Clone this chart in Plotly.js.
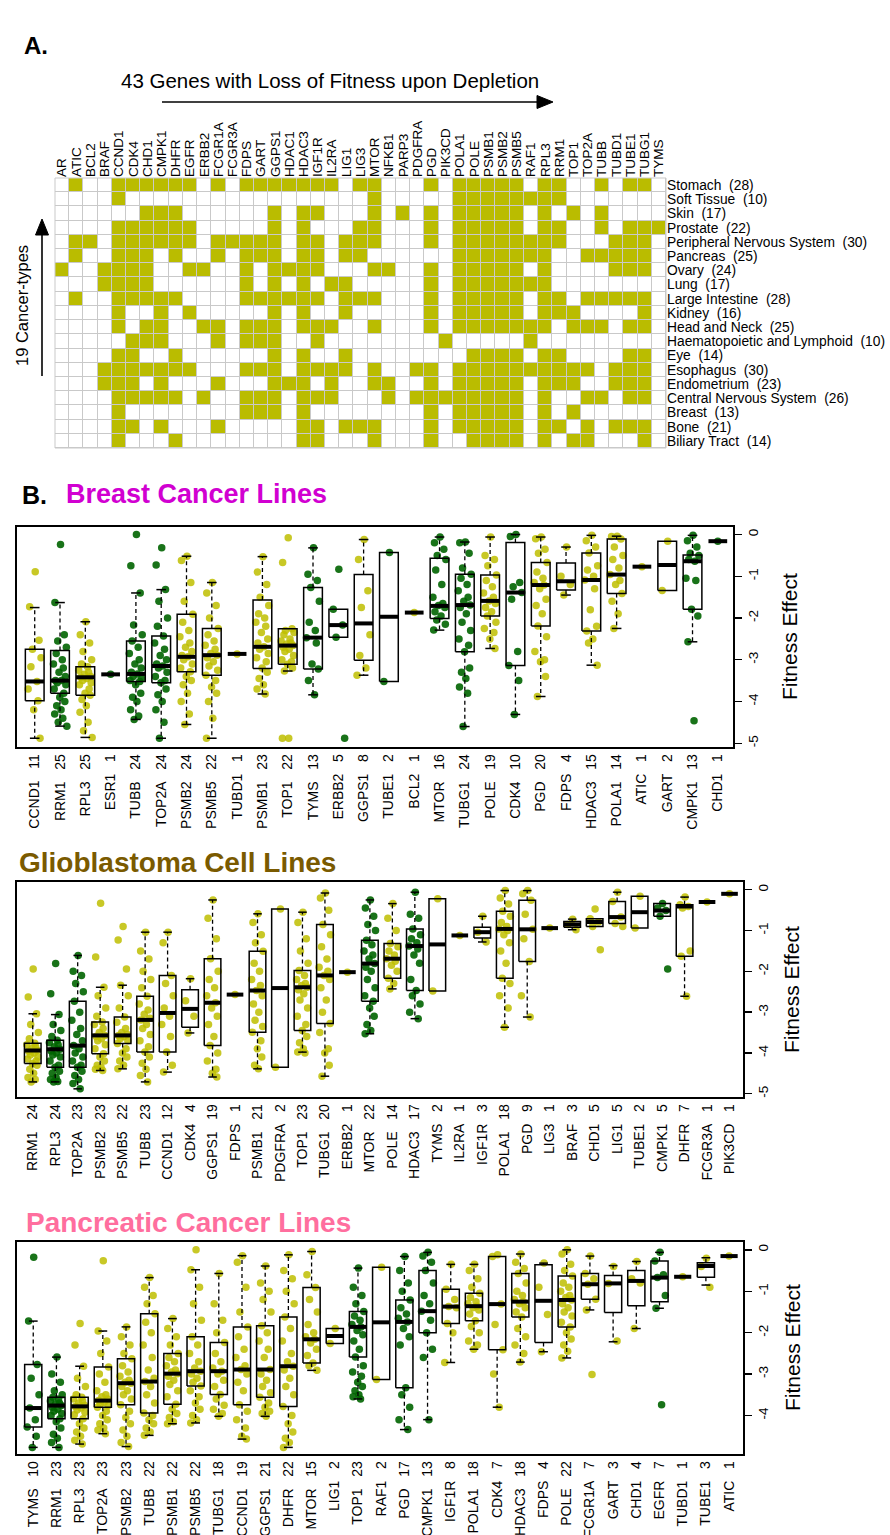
<!DOCTYPE html>
<html><head><meta charset="utf-8">
<script src="https://cdn.plot.ly/plotly-3.0.1.min.js"></script>
<style>html,body{margin:0;padding:0;background:#fff;}#chart{width:890px;height:1535px;}</style>
</head><body><div id="chart"></div>
<script>
// ---------------- Panel A data ----------------
const genes43 = ["AR","ATIC","BCL2","BRAF","CCND1","CDK4","CHD1","CMPK1","DHFR","EGFR","ERBB2","FCGR1A","FCGR3A","FDPS","GART","GGPS1","HDAC1","HDAC3","IGF1R","IL2RA","LIG1","LIG3","MTOR","NFKB1","PARP3","PDGFRA","PGD","PIK3CD","POLA1","POLE","PSMB1","PSMB2","PSMB5","RAF1","RPL3","RRM1","TOP1","TOP2A","TUBB","TUBD1","TUBE1","TUBG1","TYMS"];
const cancerTypes = ["Stomach","Soft Tissue","Skin","Prostate","Peripheral Nervous System","Pancreas","Ovary","Lung","Large Intestine","Kidney","Head and Neck","Haematopoietic and Lymphoid","Eye","Esophagus","Endometrium","Central Nervous System","Breast","Bone","Biliary Tract"];
const cancerCounts = [28,10,17,22,30,25,24,17,28,16,25,10,14,30,23,26,13,21,14];
const hitGenes = [
 ["ATIC","CCND1","CDK4","CHD1","CMPK1","DHFR","EGFR","FCGR1A","FDPS","GART","GGPS1","HDAC1","HDAC3","IGF1R","IL2RA","LIG3","MTOR","PGD","POLA1","POLE","PSMB1","PSMB2","PSMB5","RPL3","RRM1","TUBB","TUBE1","TUBG1"],
 ["CCND1","MTOR","POLA1","POLE","PSMB1","PSMB2","PSMB5","RAF1","RPL3","RRM1"],
 ["CHD1","CMPK1","DHFR","GGPS1","HDAC3","IGF1R","MTOR","PARP3","PGD","POLA1","POLE","PSMB1","PSMB2","PSMB5","RPL3","TOP1","TUBB"],
 ["CCND1","CDK4","CHD1","CMPK1","DHFR","EGFR","GGPS1","HDAC3","LIG3","MTOR","PGD","POLA1","POLE","PSMB1","PSMB2","PSMB5","RPL3","RRM1","TUBB","TUBE1","TUBG1","TYMS"],
 ["ATIC","BCL2","CCND1","CDK4","CHD1","CMPK1","DHFR","EGFR","FCGR1A","FCGR3A","FDPS","GART","GGPS1","HDAC3","IGF1R","LIG1","LIG3","MTOR","PGD","POLA1","POLE","PSMB1","PSMB2","PSMB5","RAF1","RPL3","RRM1","TUBD1","TUBE1","TUBG1"],
 ["ATIC","CCND1","CDK4","CHD1","DHFR","FCGR1A","FDPS","GART","GGPS1","HDAC3","IGF1R","LIG1","LIG3","POLA1","POLE","PSMB1","PSMB2","PSMB5","RAF1","RPL3","TOP2A","TUBB","TUBD1","TUBE1","TUBG1"],
 ["AR","BRAF","CCND1","CDK4","CHD1","EGFR","ERBB2","FDPS","GGPS1","HDAC1","HDAC3","IGF1R","MTOR","NFKB1","PGD","POLA1","POLE","PSMB1","PSMB2","PSMB5","RPL3","TUBD1","TUBE1","TUBG1"],
 ["BRAF","CCND1","CDK4","CHD1","FDPS","GGPS1","HDAC3","IL2RA","LIG1","PGD","POLA1","POLE","PSMB1","PSMB2","PSMB5","RAF1","RPL3"],
 ["ATIC","CCND1","CDK4","CHD1","CMPK1","DHFR","FDPS","GART","GGPS1","HDAC1","HDAC3","IGF1R","LIG1","LIG3","MTOR","PGD","POLA1","POLE","PSMB1","PSMB2","PSMB5","RPL3","RRM1","TOP2A","TUBB","TUBD1","TUBE1","TUBG1"],
 ["CCND1","CMPK1","EGFR","GGPS1","HDAC3","LIG1","PGD","POLA1","POLE","PSMB1","PSMB2","PSMB5","RPL3","RRM1","TOP1","TUBG1"],
 ["CCND1","CHD1","CMPK1","ERBB2","FCGR1A","FDPS","GART","GGPS1","HDAC3","IGF1R","IL2RA","MTOR","PGD","POLA1","POLE","PSMB1","PSMB2","PSMB5","RAF1","RPL3","TOP1","TOP2A","TUBB","TUBE1","TUBG1"],
 ["CDK4","CHD1","CMPK1","FCGR1A","FDPS","GART","GGPS1","IGF1R","PIK3CD","RAF1"],
 ["CCND1","CDK4","DHFR","GGPS1","HDAC3","LIG1","POLE","PSMB1","PSMB2","PSMB5","RPL3","RRM1","TUBE1","TUBG1"],
 ["BRAF","CCND1","CDK4","CHD1","CMPK1","DHFR","EGFR","FDPS","GART","GGPS1","HDAC3","IGF1R","IL2RA","LIG1","MTOR","PDGFRA","PGD","POLA1","POLE","PSMB1","PSMB2","PSMB5","RAF1","RPL3","RRM1","TOP1","TOP2A","TUBD1","TUBE1","TUBG1"],
 ["BRAF","CCND1","CDK4","CMPK1","FCGR1A","GGPS1","HDAC1","HDAC3","IL2RA","MTOR","NFKB1","PGD","POLA1","POLE","PSMB1","PSMB2","PSMB5","RPL3","RRM1","TOP1","TUBD1","TUBE1","TUBG1"],
 ["CCND1","CDK4","CHD1","CMPK1","DHFR","ERBB2","FDPS","GART","GGPS1","HDAC3","IGF1R","IL2RA","NFKB1","PDGFRA","PGD","PIK3CD","POLA1","POLE","PSMB1","PSMB2","PSMB5","RPL3","TOP2A","TUBB","TUBE1","TUBG1"],
 ["CCND1","FDPS","GART","GGPS1","HDAC3","PGD","POLA1","POLE","PSMB1","PSMB2","PSMB5","RPL3","TOP1"],
 ["CCND1","CDK4","CMPK1","FCGR1A","HDAC3","IGF1R","LIG1","LIG3","MTOR","PGD","POLA1","POLE","PSMB1","PSMB2","PSMB5","RPL3","RRM1","TOP2A","TUBD1","TUBE1","TUBG1"],
 ["CCND1","DHFR","HDAC3","IGF1R","MTOR","PGD","POLE","PSMB1","PSMB2","PSMB5","RPL3","TOP1","TOP2A","TUBG1"]
];

// ---------------- Panel B: Breast ----------------
const breastGenes = ["CCND1","RRM1","RPL3","ESR1","TUBB","TOP2A","PSMB2","PSMB5","TUBD1","PSMB1","TOP1","TYMS","ERBB2","GGPS1","TUBE1","BCL2","MTOR","TUBG1","POLE","CDK4","PGD","FDPS","HDAC3","POLA1","ATIC","GART","CMPK1","CHD1"];
const breastN = [11,25,25,1,24,24,24,22,1,23,22,13,5,8,2,1,16,24,19,10,20,4,15,14,1,2,13,1];
const breastQ1 = [-3.98,-3.80,-3.85,-3.35,-3.52,-3.55,-3.29,-3.37,-2.86,-3.21,-3.11,-3.22,-2.46,-3.01,-3.52,-1.87,-2.01,-2.81,-1.95,-3.14,-2.19,-1.33,-2.31,-1.41,-0.77,-1.34,-1.79,-0.16];
const breastMed = [-3.52,-3.50,-3.42,-3.35,-3.34,-3.15,-2.93,-2.89,-2.86,-2.69,-2.66,-2.47,-2.17,-2.13,-1.97,-1.87,-1.71,-1.69,-1.59,-1.39,-1.21,-1.12,-1.09,-0.96,-0.77,-0.73,-0.64,-0.16];
const breastQ3 = [-2.75,-2.78,-3.17,-3.35,-2.55,-2.43,-1.91,-2.25,-2.86,-1.57,-2.26,-1.27,-1.79,-0.96,-0.43,-1.87,-0.57,-0.95,-0.97,-0.19,-0.67,-0.68,-0.44,-0.11,-0.77,-0.16,-0.49,-0.16];
const breastLo = [-4.88,-4.59,-4.86,-3.35,-4.43,-4.88,-4.55,-4.88,-2.86,-3.82,-3.27,-3.84,-2.46,-3.37,-3.52,-1.87,-2.29,-4.60,-2.73,-4.31,-3.88,-1.45,-3.13,-2.25,-0.77,-1.34,-2.57,-0.16];
const breastHi = [-1.75,-1.63,-2.09,-3.35,-1.40,-1.32,-0.52,-1.15,-2.86,-0.53,-2.26,-0.32,-1.79,-0.12,-0.43,-1.87,-0.06,-0.18,-0.06,0.00,-0.06,-0.30,-0.02,-0.04,-0.77,-0.16,-0.02,-0.16];
const breastColor = ["o","g","o","g","g","g","o","o","o","o","o","g","g","o","g","o","g","g","o","g","o","o","o","o","o","o","g","g"];
const breastPoints = [
 [-0.89,-1.73,-2.53,-2.75,-2.95,-3.17,-3.52,-3.70,-3.98,-4.20,-4.88],
 [-0.24,-1.63,-2.40,-2.55,-2.70,-2.85,-3.00,-3.10,-3.20,-3.30,-3.40,-3.50,-3.50,-3.55,-3.60,-3.70,-3.80,-3.90,-4.00,-4.10,-4.20,-4.30,-4.40,-4.50,-4.59],
 [-2.09,-2.40,-2.60,-2.80,-3.00,-3.10,-3.17,-3.25,-3.30,-3.35,-3.40,-3.42,-3.45,-3.50,-3.55,-3.60,-3.70,-3.80,-3.85,-3.95,-4.10,-4.26,-4.50,-4.70,-4.86],
 [-3.35],
 [0.00,-0.75,-1.40,-2.17,-2.40,-2.55,-2.70,-2.85,-3.00,-3.10,-3.20,-3.30,-3.34,-3.40,-3.45,-3.50,-3.52,-3.60,-3.80,-3.90,-4.00,-4.20,-4.35,-4.43],
 [-0.32,-0.73,-1.32,-1.60,-2.00,-2.20,-2.43,-2.60,-2.75,-2.90,-3.00,-3.10,-3.15,-3.20,-3.30,-3.40,-3.50,-3.55,-3.70,-3.84,-4.00,-4.20,-4.50,-4.88],
 [-0.52,-0.62,-1.15,-1.60,-1.91,-2.10,-2.30,-2.45,-2.60,-2.70,-2.80,-2.90,-2.93,-3.00,-3.10,-3.20,-3.29,-3.40,-3.50,-3.60,-3.80,-4.00,-4.30,-4.55],
 [-1.15,-1.40,-1.70,-2.00,-2.25,-2.40,-2.55,-2.65,-2.75,-2.85,-2.89,-2.95,-3.05,-3.15,-3.25,-3.37,-3.50,-3.65,-3.80,-4.00,-4.40,-4.88],
 [-2.86],
 [-0.53,-0.90,-1.20,-1.50,-1.70,-1.90,-2.00,-2.10,-2.20,-2.35,-2.50,-2.60,-2.69,-2.75,-2.85,-2.95,-3.05,-3.20,-3.30,-3.45,-3.60,-3.70,-3.82],
 [-0.08,-0.67,-2.26,-2.30,-2.35,-2.40,-2.50,-2.55,-2.60,-2.62,-2.66,-2.70,-2.75,-2.80,-2.90,-3.00,-3.05,-3.11,-3.20,-3.27,-4.88,-4.88],
 [-0.32,-0.95,-1.10,-1.27,-1.60,-2.10,-2.30,-2.47,-2.60,-3.10,-3.22,-3.50,-3.84],
 [-0.83,-1.79,-2.17,-2.46,-4.88],
 [-0.12,-0.60,-1.35,-1.75,-2.40,-2.90,-3.20,-3.37],
 [-0.43,-3.52],
 [-1.87],
 [-0.06,-0.20,-0.35,-0.50,-0.60,-0.85,-1.20,-1.50,-1.65,-1.70,-1.75,-1.85,-1.95,-2.05,-2.15,-2.29],
 [-0.18,-0.20,-0.45,-0.80,-0.95,-1.05,-1.20,-1.35,-1.50,-1.60,-1.69,-1.75,-1.90,-2.10,-2.30,-2.50,-2.65,-2.81,-3.20,-3.30,-3.45,-3.65,-3.80,-4.60],
 [-0.06,-0.50,-0.60,-0.75,-0.97,-1.10,-1.25,-1.40,-1.50,-1.59,-1.65,-1.75,-1.85,-1.95,-2.10,-2.25,-2.35,-2.50,-2.73],
 [0.00,-0.05,-1.15,-1.25,-1.39,-1.55,-2.80,-3.14,-3.50,-4.31],
 [-0.06,-0.10,-0.35,-0.45,-0.67,-0.90,-1.05,-1.15,-1.21,-1.30,-1.55,-1.70,-1.90,-2.19,-2.45,-2.80,-3.00,-3.05,-3.40,-3.88],
 [-0.30,-1.00,-1.20,-1.45],
 [-0.02,-0.15,-0.30,-0.44,-0.75,-0.85,-1.00,-1.09,-1.30,-1.80,-2.20,-2.31,-2.50,-2.60,-3.13],
 [-0.04,-0.05,-0.11,-0.30,-0.50,-0.60,-0.80,-0.96,-1.10,-1.20,-1.41,-1.60,-1.90,-2.25],
 [-0.77],
 [-0.16,-1.34],
 [-0.02,-0.15,-0.30,-0.45,-0.50,-0.60,-0.64,-1.05,-1.10,-1.79,-1.95,-2.57,-4.46],
 [-0.16]
];

// ---------------- Panel B: Glioblastoma ----------------
const glioGenes = ["RRM1","RPL3","TOP2A","PSMB2","PSMB5","TUBB","CCND1","CDK4","GGPS1","FDPS","PSMB1","PDGFRA","TOP1","TUBG1","ERBB2","MTOR","POLE","HDAC3","TYMS","IL2RA","IGF1R","POLA1","PGD","LIG3","BRAF","CHD1","LIG1","TUBE1","CMPK1","DHFR","FCGR3A","PIK3CD"];
const glioN = [24,24,23,23,22,23,12,4,19,1,21,2,23,20,1,22,14,17,2,1,3,18,9,1,3,5,5,2,5,7,1,1];
const glioQ1 = [-4.26,-4.35,-4.35,-4.02,-3.77,-3.98,-3.98,-3.37,-3.82,-2.57,-3.49,-4.35,-3.45,-3.28,-2.02,-2.73,-2.17,-2.47,-2.48,-1.12,-1.18,-2.17,-1.76,-0.94,-0.92,-0.90,-0.83,-0.94,-0.65,-1.63,-0.30,-0.10];
const glioMed = [-3.94,-3.91,-3.82,-3.57,-3.57,-3.19,-3.02,-2.92,-2.77,-2.57,-2.47,-2.41,-2.39,-2.10,-2.02,-1.81,-1.69,-1.38,-1.34,-1.12,-1.04,-0.96,-0.97,-0.94,-0.85,-0.79,-0.67,-0.55,-0.51,-0.41,-0.30,-0.10];
const glioQ3 = [-3.76,-3.69,-2.73,-3.24,-3.12,-2.61,-2.10,-2.45,-1.69,-2.57,-1.51,-0.47,-1.98,-0.85,-2.02,-1.24,-1.32,-0.96,-0.22,-1.12,-0.92,-0.53,-0.26,-0.94,-0.78,-0.71,-0.29,-0.16,-0.34,-0.37,-0.30,-0.10];
const glioLo = [-4.71,-4.71,-4.88,-4.43,-4.39,-4.71,-4.47,-3.51,-4.59,-2.57,-4.39,-4.35,-3.98,-4.57,-2.02,-3.53,-2.43,-3.16,-2.48,-1.12,-1.28,-3.37,-3.12,-0.94,-0.98,-0.90,-0.83,-0.94,-0.65,-2.61,-0.30,-0.10];
const glioHi = [-3.04,-3.06,-1.61,-2.39,-2.34,-1.04,-1.04,-2.18,-0.25,-2.57,-0.59,-0.47,-0.55,-0.08,-2.02,-0.25,-0.34,-0.06,-0.22,-1.12,-0.65,-0.02,-0.02,-0.94,-0.72,-0.71,-0.06,-0.16,-0.34,-0.18,-0.30,-0.10];
const glioColor = ["o","g","g","o","o","o","o","o","o","o","o","o","o","o","o","g","o","g","o","o","o","o","o","o","o","o","o","o","g","o","o","o"];
const glioPoints = [
 [-1.94,-2.63,-3.04,-3.30,-3.50,-3.65,-3.76,-3.80,-3.85,-3.90,-3.94,-3.96,-4.00,-4.05,-4.10,-4.15,-4.20,-4.26,-4.30,-4.40,-4.50,-4.60,-4.65,-4.71],
 [-1.81,-2.55,-3.06,-3.30,-3.45,-3.60,-3.69,-3.75,-3.80,-3.85,-3.91,-3.95,-4.00,-4.05,-4.10,-4.20,-4.30,-4.35,-4.45,-4.50,-4.60,-4.65,-4.70,-4.71],
 [-1.61,-2.00,-2.10,-2.30,-2.50,-2.73,-3.00,-3.20,-3.40,-3.55,-3.70,-3.82,-3.90,-4.00,-4.10,-4.20,-4.30,-4.35,-4.45,-4.55,-4.65,-4.75,-4.88],
 [-0.33,-1.65,-2.39,-2.60,-2.90,-3.10,-3.24,-3.30,-3.40,-3.50,-3.57,-3.60,-3.65,-3.70,-3.80,-3.90,-4.02,-4.10,-4.20,-4.30,-4.35,-4.40,-4.43],
 [-0.90,-1.23,-1.94,-2.34,-2.60,-2.90,-3.12,-3.25,-3.40,-3.50,-3.55,-3.57,-3.60,-3.65,-3.70,-3.77,-3.90,-4.00,-4.10,-4.20,-4.30,-4.39],
 [-1.04,-1.50,-1.70,-2.00,-2.20,-2.40,-2.61,-2.80,-2.95,-3.05,-3.15,-3.19,-3.30,-3.40,-3.55,-3.70,-3.85,-3.98,-4.10,-4.25,-4.40,-4.55,-4.71],
 [-1.04,-1.30,-2.10,-2.30,-2.60,-2.90,-3.10,-3.30,-3.60,-3.98,-4.30,-4.47],
 [-2.18,-2.72,-3.10,-3.51],
 [-0.25,-0.70,-1.20,-1.69,-2.00,-2.20,-2.40,-2.60,-2.77,-2.90,-3.10,-3.30,-3.60,-3.82,-4.00,-4.20,-4.40,-4.50,-4.59],
 [-2.57],
 [-0.59,-0.80,-1.10,-1.30,-1.51,-1.80,-2.00,-2.20,-2.35,-2.47,-2.60,-2.80,-3.00,-3.20,-3.35,-3.49,-3.70,-3.90,-4.10,-4.30,-4.39],
 [-0.47,-4.35],
 [-0.55,-0.80,-1.20,-1.50,-1.80,-1.98,-2.10,-2.20,-2.30,-2.35,-2.39,-2.45,-2.55,-2.70,-2.90,-3.10,-3.30,-3.45,-3.60,-3.75,-3.90,-3.98,-4.00],
 [-0.08,-0.20,-0.50,-0.85,-1.10,-1.40,-1.70,-1.90,-2.00,-2.10,-2.20,-2.40,-2.70,-3.00,-3.28,-3.50,-3.90,-4.00,-4.30,-4.57],
 [-2.02],
 [-0.25,-0.45,-0.65,-0.85,-1.00,-1.24,-1.35,-1.50,-1.60,-1.70,-1.81,-1.90,-2.00,-2.20,-2.40,-2.60,-2.73,-2.90,-3.10,-3.30,-3.45,-3.53],
 [-0.34,-0.70,-1.00,-1.32,-1.40,-1.50,-1.60,-1.69,-1.75,-1.85,-2.00,-2.17,-2.30,-2.43],
 [-0.06,-0.60,-0.70,-0.96,-1.10,-1.20,-1.30,-1.38,-1.45,-1.60,-1.80,-2.20,-2.47,-2.60,-2.80,-3.00,-3.16],
 [-0.22,-2.48],
 [-1.12],
 [-0.65,-1.04,-1.28],
 [-0.02,-0.20,-0.35,-0.53,-0.65,-0.80,-0.90,-0.96,-1.00,-1.10,-1.30,-1.50,-1.80,-2.17,-2.30,-2.60,-2.90,-3.37],
 [-0.02,-0.10,-0.26,-0.60,-0.97,-1.20,-1.76,-2.60,-3.12],
 [-0.94],
 [-0.72,-0.85,-0.98],
 [-0.47,-0.71,-0.79,-0.90,-1.47],
 [-0.06,-0.29,-0.67,-0.83,-0.90],
 [-0.16,-0.94],
 [-0.34,-0.45,-0.51,-0.65,-1.94],
 [-0.18,-0.37,-0.41,-0.45,-1.50,-1.63,-2.61],
 [-0.30],
 [-0.10]
];

// ---------------- Panel B: Pancreatic ----------------
const pancGenes = ["TYMS","RRM1","RPL3","TOP2A","PSMB2","TUBB","PSMB1","PSMB5","TUBG1","CCND1","GGPS1","DHFR","MTOR","LIG1","TOP1","RAF1","PGD","CMPK1","IGF1R","POLA1","CDK4","HDAC3","FDPS","POLE","FCGR1A","GART","CHD1","EGFR","TUBD1","TUBE1","ATIC"];
const pancN = [10,23,23,23,23,22,22,22,18,19,21,22,15,2,23,2,17,13,8,18,7,18,4,22,7,3,4,7,1,3,1];
const pancQ1 = [-4.28,-4.08,-4.08,-3.80,-3.74,-3.94,-3.73,-3.29,-3.49,-3.74,-3.56,-3.78,-2.73,-2.26,-2.59,-3.13,-3.33,-2.00,-1.78,-1.71,-2.41,-1.62,-2.24,-1.86,-1.19,-1.51,-1.35,-1.25,-0.65,-0.66,-0.15];
const pancMed = [-3.82,-3.76,-3.78,-3.64,-3.22,-3.18,-2.99,-2.93,-2.93,-2.89,-2.89,-2.81,-2.16,-2.08,-1.86,-1.75,-1.74,-1.48,-1.37,-1.36,-1.31,-1.25,-1.23,-1.21,-0.83,-0.81,-0.75,-0.67,-0.65,-0.39,-0.15];
const pancQ3 = [-2.77,-3.56,-3.56,-2.83,-2.63,-1.54,-2.50,-2.10,-2.24,-1.86,-1.83,-1.62,-0.91,-1.90,-1.49,-0.42,-1.21,-0.50,-0.95,-1.05,-0.16,-0.57,-0.36,-0.63,-0.57,-0.62,-0.50,-0.27,-0.65,-0.31,-0.15];
const pancLo = [-4.77,-4.77,-4.69,-4.44,-4.75,-4.48,-4.20,-4.18,-4.02,-4.57,-4.02,-4.77,-2.91,-2.26,-3.60,-3.13,-4.34,-4.10,-2.72,-2.40,-3.80,-2.71,-2.46,-2.61,-1.45,-2.22,-1.90,-1.41,-0.65,-0.85,-0.15];
const pancHi = [-1.72,-2.59,-2.81,-1.96,-1.86,-0.67,-1.66,-0.48,-0.57,-0.14,-0.39,-0.12,-0.04,-1.90,-0.44,-0.42,-0.16,-0.06,-0.35,-0.35,-0.16,-0.10,-0.32,0.00,-0.15,-0.38,-0.28,-0.06,-0.65,-0.19,-0.15];
const pancColor = ["g","g","o","o","o","o","o","o","o","o","o","o","o","o","g","o","g","g","o","o","o","o","o","o","o","o","o","g","o","o","o"];
const pancPoints = [
 [-0.18,-1.72,-2.77,-3.10,-3.50,-3.82,-4.10,-4.28,-4.50,-4.77],
 [-2.59,-3.00,-3.20,-3.40,-3.50,-3.56,-3.60,-3.65,-3.70,-3.72,-3.76,-3.80,-3.85,-3.90,-3.95,-4.00,-4.08,-4.15,-4.30,-4.45,-4.55,-4.65,-4.77],
 [-1.78,-2.30,-2.81,-3.10,-3.30,-3.50,-3.56,-3.60,-3.65,-3.70,-3.75,-3.78,-3.82,-3.87,-3.92,-3.98,-4.08,-4.20,-4.30,-4.40,-4.50,-4.60,-4.69],
 [-0.26,-1.96,-2.20,-2.50,-2.83,-3.00,-3.20,-3.40,-3.50,-3.55,-3.60,-3.64,-3.68,-3.72,-3.76,-3.80,-3.90,-4.00,-4.10,-4.20,-4.30,-4.35,-4.44],
 [-1.86,-2.10,-2.30,-2.50,-2.63,-2.80,-2.95,-3.05,-3.15,-3.20,-3.22,-3.30,-3.40,-3.50,-3.60,-3.74,-3.90,-4.05,-4.20,-4.35,-4.50,-4.65,-4.75],
 [-0.67,-0.90,-1.10,-1.30,-1.54,-1.75,-2.00,-2.30,-2.60,-2.90,-3.10,-3.18,-3.30,-3.50,-3.70,-3.94,-4.00,-4.10,-4.20,-4.30,-4.40,-4.48],
 [-1.66,-1.90,-2.10,-2.30,-2.50,-2.60,-2.70,-2.80,-2.90,-2.95,-2.99,-3.05,-3.15,-3.25,-3.40,-3.55,-3.73,-3.85,-3.95,-4.05,-4.15,-4.20],
 [0.00,-0.48,-0.90,-1.30,-1.70,-2.10,-2.30,-2.50,-2.70,-2.85,-2.93,-3.00,-3.10,-3.20,-3.29,-3.40,-3.55,-3.70,-3.85,-4.00,-4.10,-4.18],
 [-0.57,-1.30,-1.70,-2.00,-2.24,-2.50,-2.70,-2.85,-2.93,-3.00,-3.15,-3.30,-3.49,-3.60,-3.75,-3.85,-3.95,-4.02],
 [-0.14,-0.30,-0.90,-1.50,-1.86,-2.10,-2.40,-2.60,-2.80,-2.89,-3.00,-3.20,-3.40,-3.74,-3.90,-4.10,-4.30,-4.50,-4.57],
 [-0.39,-0.80,-1.00,-1.20,-1.50,-1.83,-2.00,-2.20,-2.40,-2.60,-2.89,-3.00,-3.15,-3.30,-3.45,-3.56,-3.70,-3.80,-3.90,-3.95,-4.02],
 [-0.12,-0.50,-0.70,-1.00,-1.30,-1.62,-1.90,-2.20,-2.50,-2.70,-2.81,-2.90,-3.10,-3.30,-3.50,-3.78,-4.00,-4.20,-4.40,-4.55,-4.65,-4.77],
 [-0.04,-0.60,-0.91,-1.20,-1.50,-1.80,-2.00,-2.10,-2.16,-2.25,-2.40,-2.55,-2.73,-2.80,-2.91],
 [-1.90,-2.26],
 [-0.44,-0.90,-1.10,-1.30,-1.49,-1.60,-1.70,-1.80,-1.86,-1.95,-2.05,-2.20,-2.40,-2.59,-2.80,-2.95,-3.05,-3.20,-3.30,-3.40,-3.50,-3.55,-3.60],
 [-0.42,-3.13],
 [-0.16,-0.50,-0.80,-1.00,-1.21,-1.40,-1.55,-1.65,-1.74,-1.90,-2.10,-2.30,-3.33,-3.50,-3.80,-4.10,-4.34],
 [-0.06,-0.15,-0.30,-0.50,-0.80,-1.10,-1.30,-1.48,-1.70,-2.00,-2.40,-2.60,-4.10],
 [-0.35,-0.95,-1.20,-1.37,-1.40,-1.78,-2.00,-2.72],
 [-0.35,-0.50,-0.70,-0.90,-1.05,-1.15,-1.25,-1.30,-1.36,-1.40,-1.45,-1.55,-1.71,-1.85,-2.00,-2.20,-2.30,-2.40],
 [-0.12,-0.16,-1.31,-1.80,-2.41,-3.00,-3.80],
 [-0.10,-0.30,-0.45,-0.57,-0.80,-1.00,-1.10,-1.20,-1.25,-1.30,-1.40,-1.50,-1.62,-1.90,-2.10,-2.30,-2.50,-2.71],
 [-0.32,-0.90,-1.56,-2.46],
 [0.00,-0.10,-0.35,-0.50,-0.63,-0.80,-0.90,-1.00,-1.10,-1.15,-1.21,-1.30,-1.40,-1.50,-1.60,-1.75,-1.86,-2.00,-2.15,-2.30,-2.45,-2.61],
 [-0.15,-0.57,-0.70,-0.83,-1.19,-1.45,-3.01],
 [-0.40,-0.81,-2.20],
 [-0.28,-0.70,-0.80,-1.90],
 [-0.06,-0.27,-0.60,-0.67,-1.10,-1.41,-3.74],
 [-0.65],
 [-0.20,-0.40,-0.90],
 [-0.15]
];

// ---------------- styling ----------------
const FONT = "Liberation Sans, Arial, Helvetica, sans-serif";
const OLIVE_CELL = "#BABC00";
const OLIVE_PT = "rgba(190,190,0,0.85)";
const GREEN_PT = "rgba(0,100,0,0.9)";
const W = 890, H = 1535;
const PX = x => x / W, PY = y => 1 - y / H;
const NB = "\u00A0";
const SEP = NB + NB + NB;
// deterministic horizontal spread pattern for the strip points (layout only)
const SPREAD = [0.02,-0.2,0.17,-0.09,0.25,-0.15,0.09,-0.26,0.13,-0.04,0.21,-0.18,0.06,-0.11,0.23,-0.23,0.15,-0.01,0.19,-0.13,0.04,-0.21,0.11,-0.07,0.27];

const traces = [];

// heatmap
const z = cancerTypes.map((c, r) => genes43.map(g => hitGenes[r].includes(g) ? 1 : 0));
const rowLabels = cancerTypes.map((c, r) => c + NB + NB + "(" + cancerCounts[r] + ")");
traces.push({
  type: "heatmap", x: genes43, y: rowLabels, z: z, xaxis: "x", yaxis: "y",
  colorscale: [[0, "#ffffff"], [1, OLIVE_CELL]], zmin: 0, zmax: 1, showscale: false,
  xgap: 1, ygap: 1, hoverinfo: "skip"
});

function addPanel(genes, q1, med, q3, lo, hi, col, pts, xa, ya) {
  const BW = 0.37, CW = 0.19;
  const px = [], py = [], pc = [];
  const bx = [], by = [], mx = [], my = [], wx = [], wy = [], cx = [], cy = [];
  genes.forEach((g, i) => {
    pts[i].forEach((v, k) => { px.push(i + (pts[i].length > 1 ? SPREAD[k % SPREAD.length] : 0)); py.push(v); pc.push(col[i] === "g" ? GREEN_PT : OLIVE_PT); });
    if (q3[i] > q1[i]) { bx.push(i - BW, i + BW, i + BW, i - BW, i - BW, null); by.push(q1[i], q1[i], q3[i], q3[i], q1[i], null); }
    mx.push(i - BW, i + BW, null); my.push(med[i], med[i], null);
    if (hi[i] > q3[i]) { wx.push(i, i, null); wy.push(q3[i], hi[i], null); cx.push(i - CW, i + CW, null); cy.push(hi[i], hi[i], null); }
    if (lo[i] < q1[i]) { wx.push(i, i, null); wy.push(q1[i], lo[i], null); cx.push(i - CW, i + CW, null); cy.push(lo[i], lo[i], null); }
  });
  traces.push({ type: "scatter", mode: "markers", x: px, y: py, xaxis: xa, yaxis: ya, marker: { size: 7.5, color: pc, line: { width: 0 } }, hoverinfo: "skip" });
  traces.push({ type: "scatter", mode: "lines", x: wx, y: wy, xaxis: xa, yaxis: ya, line: { color: "#000", width: 1.3, dash: "4px,3px" }, hoverinfo: "skip" });
  traces.push({ type: "scatter", mode: "lines", x: cx, y: cy, xaxis: xa, yaxis: ya, line: { color: "#000", width: 1.5 }, hoverinfo: "skip" });
  traces.push({ type: "scatter", mode: "lines", x: bx, y: by, xaxis: xa, yaxis: ya, line: { color: "#000", width: 1.5 }, hoverinfo: "skip" });
  traces.push({ type: "scatter", mode: "lines", x: mx, y: my, xaxis: xa, yaxis: ya, line: { color: "#000", width: 4 }, hoverinfo: "skip" });
}
addPanel(breastGenes, breastQ1, breastMed, breastQ3, breastLo, breastHi, breastColor, breastPoints, "x2", "y2");
addPanel(glioGenes, glioQ1, glioMed, glioQ3, glioLo, glioHi, glioColor, glioPoints, "x3", "y3");
addPanel(pancGenes, pancQ1, pancMed, pancQ3, pancLo, pancHi, pancColor, pancPoints, "x4", "y4");

function xAxis(genes, ns, left, right, anchor) {
  return {
    domain: [PX(left), PX(right)], anchor: anchor, range: [-0.7, genes.length - 1 + 0.6],
    tickmode: "array", tickvals: genes.map((g, i) => i), ticktext: genes.map((g, i) => g + SEP + ns[i]),
    tickangle: -90, tickfont: { size: 14, color: "#000" }, ticks: "", showgrid: false, zeroline: false,
    showline: true, mirror: true, linecolor: "#000", linewidth: 1.6, fixedrange: true
  };
}
function yAxis(top, bottom, range, anchor) {
  return {
    domain: [PY(bottom), PY(top)], anchor: anchor, side: "right", range: range,
    tickmode: "array", tickvals: [0, -1, -2, -3, -4, -5], ticktext: ["0", "-1", "-2", "-3", "-4", "-5"],
    tickangle: -90, tickfont: { size: 13.5, color: "#000" }, ticks: "outside", ticklen: 7, tickwidth: 1.3, tickcolor: "#000",
    showgrid: false, zeroline: false, showline: true, mirror: true, linecolor: "#000", linewidth: 1.6, fixedrange: true
  };
}

const layout = {
  width: W, height: H, margin: { l: 0, r: 0, t: 0, b: 0 }, paper_bgcolor: "#fff", plot_bgcolor: "rgba(0,0,0,0)",
  showlegend: false, font: { family: FONT, color: "#000" },
  xaxis: { domain: [PX(55), PX(666)], anchor: "y", side: "top", tickmode: "array", tickvals: genes43, ticktext: genes43, tickangle: -90, tickfont: { size: 13.5 }, ticks: "", showgrid: false, zeroline: false, showline: false, fixedrange: true },
  yaxis: { domain: [PY(448), PY(178)], anchor: "x", side: "right", autorange: "reversed", tickmode: "array", tickvals: rowLabels, ticktext: rowLabels, tickfont: { size: 13.8 }, ticks: "", showgrid: false, zeroline: false, showline: false, fixedrange: true },
  xaxis2: xAxis(breastGenes, breastN, 17, 733, "y2"),
  yaxis2: yAxis(527, 747, [-5.09, 0.18], "x2"),
  xaxis3: xAxis(glioGenes, glioN, 17, 743, "y3"),
  yaxis3: yAxis(882, 1097, [-5.08, 0.19], "x3"),
  xaxis4: xAxis(pancGenes, pancN, 17, 743, "y4"),
  yaxis4: yAxis(1242, 1454, [-4.93, 0.19], "x4"),
  shapes: [
    { type: "rect", xref: "x domain", yref: "y domain", x0: 0, x1: 1, y0: 0, y1: 1, fillcolor: "#c9c9c9", line: { width: 0 }, layer: "below" },
    { type: "rect", xref: "x domain", yref: "y domain", x0: 0, x1: 1, y0: 0, y1: 1, fillcolor: "rgba(0,0,0,0)", line: { width: 1, color: "#c9c9c9" }, layer: "above" },
    { type: "line", xref: "paper", yref: "paper", x0: PX(162), x1: PX(542), y0: PY(102), y1: PY(102), line: { color: "#000", width: 1.6 } },
    { type: "path", xref: "paper", yref: "paper", path: `M ${PX(537)} ${PY(95.5)} L ${PX(553)} ${PY(102)} L ${PX(537)} ${PY(108.5)} Z`, fillcolor: "#000", line: { color: "#000", width: 1 } },
    { type: "line", xref: "paper", yref: "paper", x0: PX(42), x1: PX(42), y0: PY(376), y1: PY(232), line: { color: "#000", width: 1.6 } },
    { type: "path", xref: "paper", yref: "paper", path: `M ${PX(35.5)} ${PY(235)} L ${PX(42)} ${PY(219)} L ${PX(48.5)} ${PY(235)} Z`, fillcolor: "#000", line: { color: "#000", width: 1 } }
  ],
  annotations: [
    { xref: "paper", yref: "paper", x: PX(22), y: PY(46), xanchor: "left", yanchor: "middle", text: "<b>A.</b>", showarrow: false, font: { size: 24 } },
    { xref: "paper", yref: "paper", x: PX(330), y: PY(80), xanchor: "center", yanchor: "middle", text: "43 Genes with Loss of Fitness upon Depletion", showarrow: false, font: { size: 20.5 } },
    { xref: "paper", yref: "paper", x: PX(22), y: PY(306), xanchor: "center", yanchor: "middle", text: "19 Cancer-types", textangle: -90, showarrow: false, font: { size: 16.5 } },
    { xref: "paper", yref: "paper", x: PX(20), y: PY(495), xanchor: "left", yanchor: "middle", text: "<b>B.</b>", showarrow: false, font: { size: 25 } },
    { xref: "paper", yref: "paper", x: PX(64), y: PY(494), xanchor: "left", yanchor: "middle", text: "<b>Breast Cancer Lines</b>", showarrow: false, font: { size: 27, color: "#D100D1" } },
    { xref: "paper", yref: "paper", x: PX(17), y: PY(862), xanchor: "left", yanchor: "middle", text: "<b>Glioblastoma Cell Lines</b>", showarrow: false, font: { size: 28, color: "#7A5A00" } },
    { xref: "paper", yref: "paper", x: PX(24), y: PY(1222), xanchor: "left", yanchor: "middle", text: "<b>Pancreatic Cancer Lines</b>", showarrow: false, font: { size: 28, color: "#FF6E9E" } },
    { xref: "paper", yref: "paper", x: PX(789), y: PY(637), xanchor: "center", yanchor: "middle", text: "Fitness Effect", textangle: -90, showarrow: false, font: { size: 21 } },
    { xref: "paper", yref: "paper", x: PX(792), y: PY(990), xanchor: "center", yanchor: "middle", text: "Fitness Effect", textangle: -90, showarrow: false, font: { size: 21 } },
    { xref: "paper", yref: "paper", x: PX(792), y: PY(1348), xanchor: "center", yanchor: "middle", text: "Fitness Effect", textangle: -90, showarrow: false, font: { size: 21 } }
  ]
};

Plotly.newPlot("chart", traces, layout, { staticPlot: true, displayModeBar: false });
</script>
</body></html>
